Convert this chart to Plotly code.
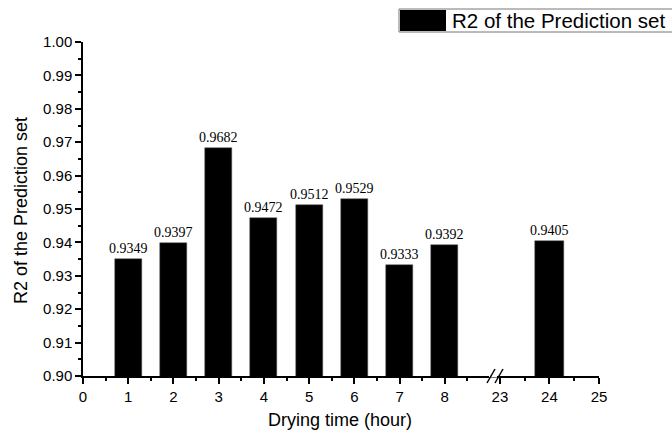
import plotly.graph_objects as go

# Drying times and R2 of the prediction set
hours_main = [1, 2, 3, 4, 5, 6, 7, 8]
r2_main = [0.9349, 0.9397, 0.9682, 0.9472, 0.9512, 0.9529, 0.9333, 0.9392]
hours_late = [24]
r2_late = [0.9405]

y_ticks = [0.90, 0.91, 0.92, 0.93, 0.94, 0.95, 0.96, 0.97, 0.98, 0.99, 1.00]
x_ticks_main = [0, 1, 2, 3, 4, 5, 6, 7, 8]
x_ticks_late = [23, 24, 25]

series_name = "R2 of the Prediction set"
label_font = dict(family="Liberation Serif", size=14, color="black")
tick_font = dict(family="Liberation Sans", size=15, color="black")

fig = go.Figure()
fig.add_trace(go.Bar(
    x=hours_main, y=r2_main, width=0.6, xaxis="x", yaxis="y",
    marker=dict(color="black", line=dict(color="#555", width=0.5)),
    text=[f"{v:.4f}" for v in r2_main], textposition="outside",
    constraintext="none",
    textfont=label_font, cliponaxis=False, showlegend=False, name=series_name,
))
fig.add_trace(go.Bar(
    x=hours_late, y=r2_late, width=0.6, xaxis="x2", yaxis="y",
    marker=dict(color="black", line=dict(color="#555", width=0.5)),
    text=[f"{v:.4f}" for v in r2_late], textposition="outside",
    constraintext="none",
    textfont=label_font, cliponaxis=False, showlegend=False, name=series_name,
))

L, R, T, B = 83, 73, 42, 54
W, H = 672, 430
pw = W - L - R
split = (490 - L) / pw

axis_common = dict(
    showline=True, linecolor="black", linewidth=1.5, ticks="outside",
    ticklen=6, tickwidth=1.5, tickcolor="black", showgrid=False,
    zeroline=False, tickfont=tick_font,
)

fig.update_layout(
    width=W, height=H, margin=dict(l=L, r=R, t=T, b=B),
    plot_bgcolor="white", paper_bgcolor="white", bargap=0,
    xaxis=dict(domain=[0, split], range=[0, 9], tickvals=x_ticks_main,
               minor=dict(tickvals=[i + 0.5 for i in range(9)], ticklen=3,
                          tickwidth=1.5, tickcolor="black", ticks="outside"),
               **axis_common),
    xaxis2=dict(domain=[split, 1], range=[22.8, 25], tickvals=x_ticks_late,
                anchor="y",
                minor=dict(tickvals=[23.5, 24.5], ticklen=3, tickwidth=1.5,
                           tickcolor="black", ticks="outside"),
                **axis_common),
    yaxis=dict(range=[0.9, 1.0], tickvals=y_ticks, tickformat=".2f",
               minor=dict(dtick=0.005, ticklen=3, tickwidth=1.5,
                          tickcolor="black", ticks="outside"),
               **axis_common),
    font=dict(family="Liberation Sans", color="black"),
)

# Axis titles
fig.add_annotation(text="Drying time (hour)", xref="paper", yref="paper",
                   x=(340 - L) / pw, y=-(420 - (H - B)) / (H - T - B),
                   showarrow=False, font=dict(size=18, family="Liberation Sans"),
                   xanchor="center", yanchor="middle")
fig.add_annotation(text="R2 of the Prediction set", xref="paper", yref="paper",
                   x=-(L - 21) / pw, y=(H - B - 211) / (H - T - B), textangle=-90,
                   showarrow=False,
                   font=dict(size=18, family="Liberation Sans"),
                   xanchor="center", yanchor="middle")

# Axis break marks on the x axis
ph = H - T - B
fig.add_shape(type="rect", xref="paper", yref="paper",
              x0=(489 - L) / pw, x1=(497 - L) / pw, y0=-1.5 / ph, y1=1.5 / ph,
              line=dict(width=0), fillcolor="white", layer="above")
for x0 in (487, 495):
    fig.add_shape(type="line", xref="paper", yref="paper",
                  x0=(x0 - L) / pw, x1=(x0 + 8 - L) / pw,
                  y0=-7 / ph, y1=7 / ph,
                  line=dict(color="black", width=1.5))

# Legend box in the top right corner
def px(xp):
    return (xp - L) / pw

def py(yp):
    return (H - B - yp) / ph

fig.add_shape(type="rect", xref="paper", yref="paper",
              x0=px(399), x1=px(680), y0=py(32), y1=py(9),
              line=dict(color="#777", width=1), fillcolor="white")
fig.add_shape(type="rect", xref="paper", yref="paper",
              x0=px(400), x1=px(446), y0=py(31), y1=py(10),
              line=dict(width=0), fillcolor="black")
fig.add_annotation(text=series_name, xref="paper", yref="paper",
                   x=px(450), y=py(20.5), xanchor="left", yanchor="middle",
                   showarrow=False, font=dict(size=20.5, family="Liberation Sans"))

fig.write_html("out.html")
